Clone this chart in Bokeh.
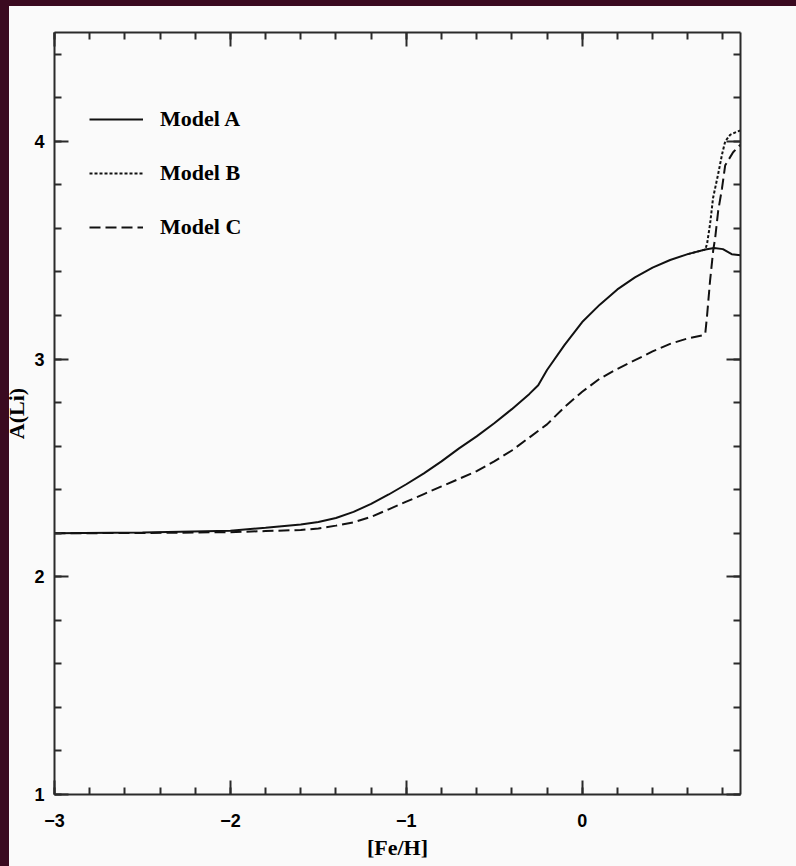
import numpy as np
from bokeh.plotting import figure
from bokeh.models import (Range1d, LinearAxis, FixedTicker, Legend, LegendItem,
                          CustomJSTickFormatter)
from bokeh.embed import file_html
from bokeh.resources import INLINE

# ---- data ----
fe_h_a = [-3.0, -2.5, -2.0, -1.8, -1.6, -1.5, -1.4, -1.3, -1.2, -1.1, -1.0, -0.9, -0.8, -0.7,
          -0.6, -0.5, -0.4, -0.3, -0.25, -0.2, -0.1, 0.0, 0.1, 0.2, 0.3, 0.4, 0.5, 0.6, 0.7,
          0.75, 0.8, 0.85, 0.9]
li_a = [2.200, 2.203, 2.212, 2.225, 2.240, 2.252, 2.270, 2.298, 2.335, 2.378, 2.425, 2.475,
        2.530, 2.590, 2.645, 2.705, 2.770, 2.840, 2.880, 2.950, 3.065, 3.170, 3.250, 3.320,
        3.375, 3.420, 3.455, 3.482, 3.503, 3.510, 3.505, 3.482, 3.477]

fe_h_b = [0.6, 0.7, 0.71, 0.727, 0.744, 0.773, 0.795, 0.813, 0.841, 0.881, 0.9]
li_b = [3.482, 3.503, 3.53, 3.62, 3.74, 3.85, 3.94, 4.00, 4.03, 4.045, 4.05]

fe_h_c = [-3.0, -2.5, -2.0, -1.8, -1.6, -1.5, -1.4, -1.3, -1.2, -1.1, -1.0, -0.9, -0.8, -0.7,
          -0.6, -0.5, -0.4, -0.3, -0.2, -0.1, 0.0, 0.1, 0.2, 0.3, 0.4, 0.5, 0.6, 0.69, 0.70,
          0.71, 0.727, 0.745, 0.756, 0.773, 0.795, 0.813, 0.858, 0.9]
li_c = [2.200, 2.201, 2.205, 2.210, 2.215, 2.222, 2.235, 2.250, 2.275, 2.310, 2.345, 2.380,
        2.415, 2.450, 2.485, 2.530, 2.580, 2.640, 2.700, 2.780, 2.850, 2.910, 2.955, 2.995,
        3.035, 3.070, 3.095, 3.110, 3.120, 3.200, 3.360, 3.500, 3.556, 3.680, 3.785, 3.890,
        3.950, 3.985]

labels = ["Model A", "Model B", "Model C"]
x_major = [-3, -2, -1, 0]
y_major = [1, 2, 3, 4]
x_title = "[Fe/H]"
y_title = "A(Li)"

INK = "#111111"
AX = "#2a2a2a"
BG = "#fafafa"
EDGE = "#3a0a20"

p = figure(width=796, height=866, x_range=Range1d(-3, 0.9), y_range=Range1d(1, 4.5),
           output_backend="svg", toolbar_location=None,
           min_border_left=54, min_border_right=56, min_border_top=32, min_border_bottom=72)
p.background_fill_color = BG
p.border_fill_color = None
p.styles = {
    "background-image": (f"linear-gradient(to right, {EDGE} 9px, transparent 9px), "
                         f"linear-gradient(to bottom, {EDGE} 6px, transparent 6px)"),
    "background-color": BG,
}
p.outline_line_color = None
p.xgrid.visible = False
p.ygrid.visible = False

x_minor = list(np.round(np.arange(-3.0, 0.95, 0.2), 2))
y_minor = list(np.round(np.arange(1.0, 4.55, 0.2), 2))


def style(ax, major, minor, show_labels):
    ax.ticker = FixedTicker(ticks=major, minor_ticks=minor)
    ax.major_tick_in = 14
    ax.major_tick_out = 0
    ax.minor_tick_in = 7
    ax.minor_tick_out = 0
    ax.axis_line_width = 2
    ax.axis_line_color = AX
    ax.major_tick_line_width = 2
    ax.major_tick_line_color = AX
    ax.minor_tick_line_width = 2
    ax.minor_tick_line_color = AX
    if show_labels:
        ax.major_label_text_font = "Liberation Sans"
        ax.major_label_text_font_style = "bold"
        ax.major_label_text_font_size = "18px"
        ax.major_label_text_color = "black"
        ax.axis_label_text_font = "Liberation Serif"
        ax.axis_label_text_font_style = "bold"
        ax.axis_label_text_font_size = "22px"
        ax.axis_label_text_color = "black"
    else:
        ax.formatter = CustomJSTickFormatter(code="return ''")
        ax.major_label_standoff = 0


style(p.xaxis[0], x_major, x_minor, True)
style(p.yaxis[0], y_major, y_minor, True)
p.xaxis[0].axis_label = x_title
p.yaxis[0].axis_label = y_title
p.xaxis[0].major_label_standoff = 19
p.xaxis[0].axis_label_standoff = 5
p.yaxis[0].major_label_standoff = 10
p.yaxis[0].axis_label_standoff = 2

top = LinearAxis()
style(top, x_major, x_minor, False)
p.add_layout(top, "above")
right = LinearAxis()
style(right, y_major, y_minor, False)
p.add_layout(right, "right")

rA = p.line(fe_h_a, li_a, line_color=INK, line_width=2)
rB = p.line(fe_h_b, li_b, line_color=INK, line_width=2, line_dash="3 2")
rC = p.line(fe_h_c, li_c, line_color=INK, line_width=2, line_dash="11 5")

legend = Legend(items=[LegendItem(label=labels[0], renderers=[rA]),
                       LegendItem(label=labels[1], renderers=[rB]),
                       LegendItem(label=labels[2], renderers=[rC])],
                location=(35, 554))
legend.label_text_font = "Liberation Serif"
legend.label_text_font_style = "bold"
legend.label_text_font_size = "22px"
legend.label_text_color = "black"
legend.glyph_width = 54
legend.glyph_height = 20
legend.label_height = 20
legend.label_standoff = 17
legend.spacing = 28
legend.padding = 0
legend.margin = 0
legend.border_line_color = None
legend.background_fill_alpha = 0
p.add_layout(legend)

html = file_html(p, INLINE)
html = html.replace(
    "<body>",
    f'<body style="margin:0; padding:0; overflow:hidden; background-color:{BG};">')
open("out.html", "w").write(html)
